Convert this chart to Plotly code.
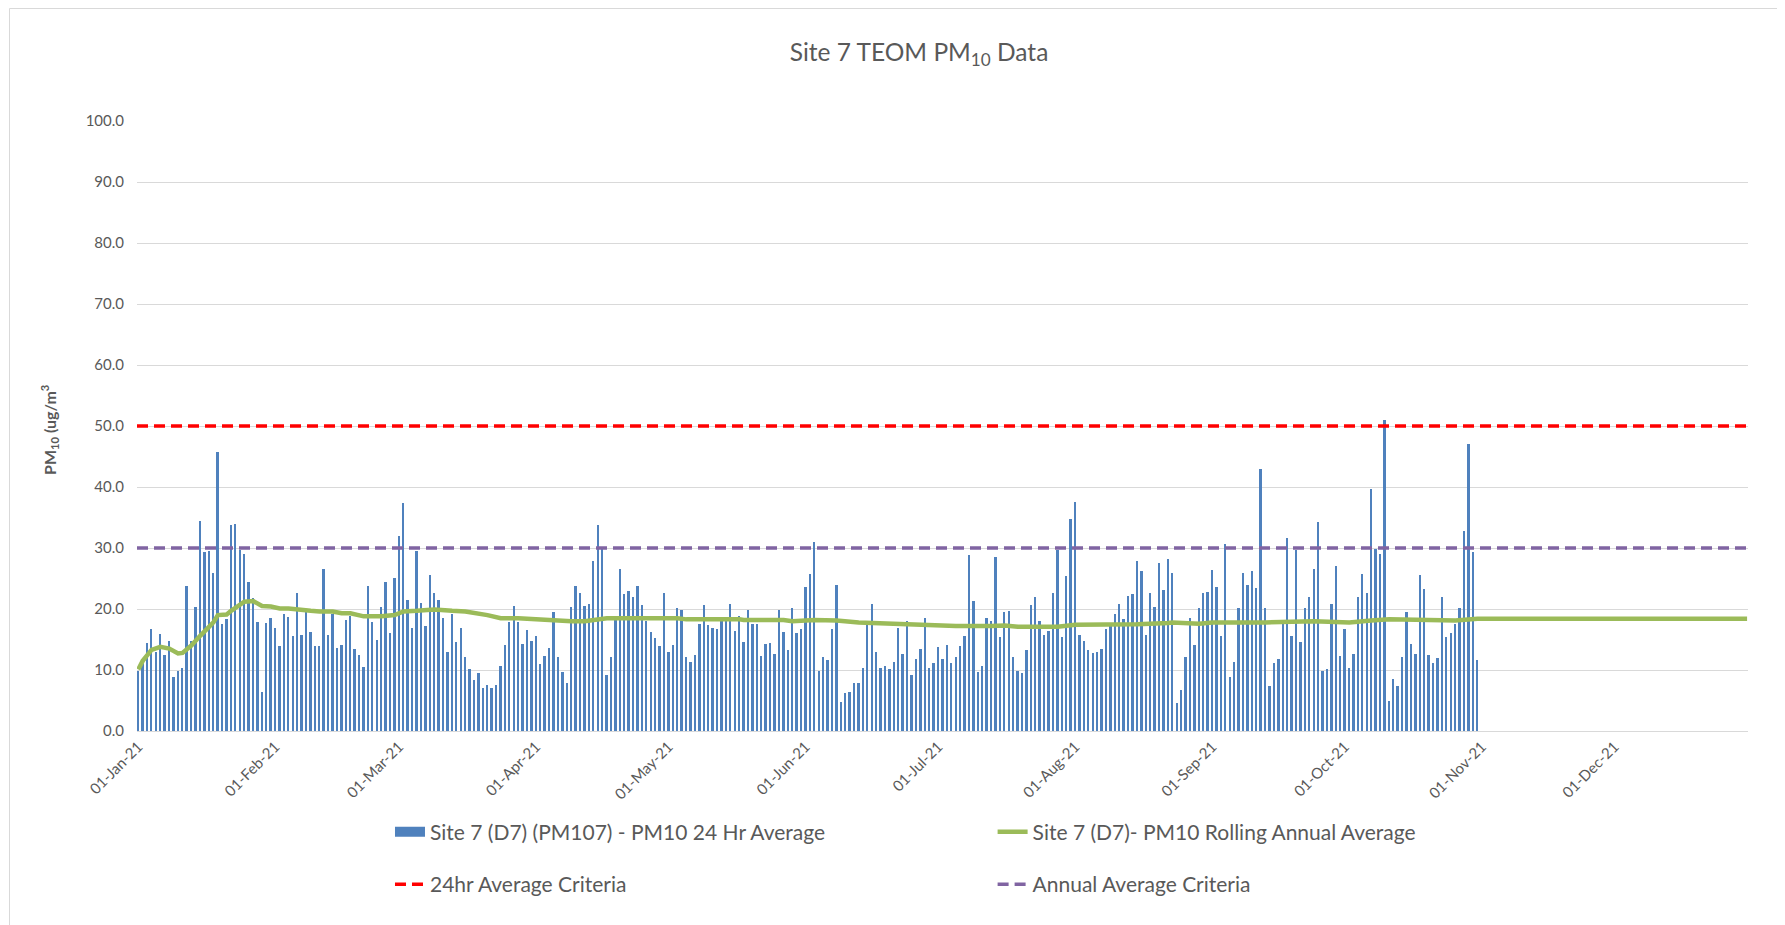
import pandas as pd
import plotly.graph_objects as go

# daily PM10 24 hr averages from 01-Jan-21 to 31-Oct-21 (ug/m3)
start_date = "2021-01-01"
pm10_24hr = [
    9.9, 11.2, 14.4, 16.7, 12.9, 15.9, 12.5, 14.8, 8.9, 9.9,
    10.4, 23.7, 14.7, 20.4, 34.5, 29.3, 29.5, 25.9, 45.8, 17.5,
    18.4, 33.8, 34.0, 29.6, 29.0, 24.4, 21.8, 17.9, 6.4, 17.7,
    18.6, 16.9, 13.9, 19.2, 18.7, 15.5, 22.7, 15.7, 19.6, 16.3,
    13.9, 14.0, 26.5, 15.7, 19.1, 13.6, 14.1, 18.2, 18.9, 13.4,
    12.5,
    10.5, 23.7, 17.8, 15.0, 20.4, 24.4, 16.1, 25.1, 31.9, 37.4,
    21.4, 16.9, 29.5, 21.0, 17.2, 25.5, 22.6, 21.4, 18.6, 12.9,
    19.1, 14.6, 16.9, 12.2, 10.2, 8.4, 9.5, 7.0, 7.6, 7.1,
    7.6, 10.6, 14.1, 17.8, 20.5, 17.8, 14.2, 16.5, 14.7, 15.6,
    11.0, 12.3, 13.6, 19.5, 12.1, 9.6, 7.8, 20.4, 23.7, 22.6,
    20.5, 20.8, 27.9, 33.8, 30.2, 9.2, 12.1, 18.2, 26.6, 22.5,
    23.0, 21.9, 23.8, 20.7, 18.0, 16.3, 15.3, 13.9, 22.6, 13.0,
    14.1, 20.2, 19.8, 12.2, 11.3, 12.4, 17.6, 20.6, 17.4, 16.9,
    16.7, 18.1, 18.1, 20.9, 16.4, 18.9, 14.6, 19.8, 17.6, 17.6,
    12.3, 14.3, 14.4, 12.6, 19.9, 16.3, 13.3, 20.2, 16.0,
    16.7, 23.6, 25.8, 31.0, 9.8, 12.2, 11.6, 16.7, 24.0, 4.8,
    6.2, 6.4, 7.9, 7.9, 10.4, 17.5, 20.9, 12.9, 10.4, 10.6,
    10.2, 11.3, 16.9, 12.6, 18.1, 9.2, 11.8, 13.4, 18.5, 10.4,
    11.1, 13.7, 11.8, 14.1, 11.1, 12.1, 13.9, 15.6, 28.9, 21.3,
    9.6, 10.6, 18.5, 18.1, 28.6, 15.4, 19.5, 19.6, 12.1, 9.9,
    9.5, 13.2, 20.6, 21.9, 18.1, 15.7, 16.4, 22.7, 29.6, 15.4,
    25.4, 34.8, 37.6, 15.8, 14.7, 13.2, 12.8, 13.0, 13.4, 16.7,
    17.2, 19.2, 20.9, 18.4, 22.1, 22.4, 27.8, 26.2, 15.7, 22.7,
    20.3, 27.5, 23.1, 28.2, 25.9, 4.6, 6.8, 12.1, 18.6, 14.1,
    20.2, 22.7, 22.8, 26.4, 23.6, 15.6, 30.7, 8.9, 11.3, 20.2,
    25.9, 24.0, 26.2, 23.4, 42.9, 20.2, 7.4, 11.2, 11.8, 17.5,
    31.6, 15.6, 29.6, 14.6, 20.2, 21.9, 26.5, 34.2, 9.9, 10.1,
    20.9, 27.1, 12.3, 16.7, 10.4, 12.6, 22.0, 25.8, 22.6, 39.7,
    29.9, 29.0, 51.0, 4.9, 8.5, 7.3, 12.1, 19.5, 14.3, 12.7,
    25.6, 23.3, 12.4, 11.2, 11.9, 22.0, 15.4, 16.0, 17.5, 20.2,
    32.8, 47.1, 29.3, 11.6,
]

# rolling annual average, read at these day offsets from 01-Jan-21
rolling_days = [
    0, 1, 3, 4, 5, 7, 9, 10, 11, 12, 14, 16, 17, 18, 20, 21, 23, 24, 26, 28,
    30, 32, 34, 36, 39, 41, 44, 46, 48, 51, 55, 58, 60, 63, 67, 71, 74, 79, 82, 86,
    90, 94, 98, 101, 104, 106, 122, 124, 136, 137, 146, 148, 153, 158, 163, 167, 172, 178, 182, 185,
    193, 196, 199, 208, 212, 220, 226, 233, 234, 240, 243, 249, 255, 266, 274, 279, 283, 292, 298, 303,
    364,
]
rolling_avg = [
    10.1, 11.5, 13.3, 13.5, 13.8, 13.5, 12.7, 12.8, 13.4, 14.0, 15.6, 17.1, 17.8, 19.0, 19.1, 19.7, 20.7, 21.2, 21.3, 20.5,
    20.4, 20.1, 20.1, 19.9, 19.7, 19.6, 19.6, 19.3, 19.3, 18.8, 18.8, 19.0, 19.6, 19.7, 19.9, 19.7, 19.6, 19.0, 18.5, 18.5,
    18.3, 18.2, 18.0, 18.0, 18.4, 18.5, 18.5, 18.3, 18.3, 18.2, 18.2, 18.0, 18.2, 18.1, 17.8, 17.7, 17.5, 17.4, 17.3, 17.2,
    17.2, 17.3, 17.1, 17.1, 17.4, 17.4, 17.5, 17.7, 17.8, 17.6, 17.8, 17.8, 17.8, 18.0, 17.8, 18.1, 18.3, 18.2, 18.1, 18.4,
    18.4,
]

criteria_24hr = 50.0
criteria_annual = 30.0

grey = "#595959"
font_family = "Lato, 'Open Sans', sans-serif"

W, H = 1785, 925
ML, MR, MT, MB = 129, 45, 113, 202

day0 = pd.Timestamp(start_date)
dates = pd.date_range(start_date, periods=len(pm10_24hr), freq="D")
rolling_dates = day0 + pd.to_timedelta(rolling_days, unit="D")
month_ticks = pd.date_range("2021-01-01", "2021-12-01", freq="MS")
x_start = day0 - pd.Timedelta(hours=7)
x_end = day0 + pd.Timedelta(days=364, hours=5)


def px_to_paper_x(px):
    return (px - ML) / (W - ML - MR)


def px_to_paper_y(py):
    return (H - MB - py) / (H - MT - MB)


fig = go.Figure()

fig.add_trace(go.Bar(
    x=dates,
    y=pm10_24hr,
    width=0.42 * 86400000,
    marker=dict(color="#4F81BD", line=dict(width=0)),
    name="Site 7 (D7) (PM107) - PM10 24 Hr Average",
    showlegend=False,
))
# legend entry drawn as a wide block, like the original
fig.add_trace(go.Scatter(
    x=[None], y=[None], mode="lines",
    line=dict(color="#4F81BD", width=11),
    name="Site 7 (D7) (PM107) - PM10 24 Hr Average",
    legend="legend",
))
fig.add_trace(go.Scatter(
    x=rolling_dates,
    y=rolling_avg,
    mode="lines",
    line=dict(color="#9BBB59", width=4.5),
    name="Site 7 (D7)- PM10 Rolling Annual Average",
    legend="legend2",
))
fig.add_trace(go.Scatter(
    x=[x_start, x_end],
    y=[criteria_24hr, criteria_24hr],
    mode="lines",
    line=dict(color="#FF0000", width=3.5, dash="11px,6px"),
    name="24hr Average Criteria",
    legend="legend3",
))
fig.add_trace(go.Scatter(
    x=[x_start, x_end],
    y=[criteria_annual, criteria_annual],
    mode="lines",
    line=dict(color="#8064A2", width=3.5, dash="11px,6px"),
    name="Annual Average Criteria",
    legend="legend4",
))

legend_style = dict(
    xref="container", yref="container", xanchor="left", yanchor="middle",
    font=dict(size=21, color=grey, family=font_family),
    bgcolor="rgba(0,0,0,0)",
)

fig.update_layout(
    width=W,
    height=H,
    margin=dict(l=ML, r=MR, t=MT, b=MB, autoexpand=False),
    paper_bgcolor="white",
    plot_bgcolor="white",
    font=dict(family=font_family, color=grey),
    title=dict(
        text="Site 7 TEOM PM<sub>10</sub> Data",
        x=0.5104, xref="container", xanchor="center",
        y=0.9524, yref="container", yanchor="middle",
        font=dict(size=24.5, color=grey, family=font_family),
    ),
    bargap=0,
    legend=dict(x=0.214, y=0.1092, **legend_style),
    legend2=dict(x=0.5516, y=0.1092, **legend_style),
    legend3=dict(x=0.214, y=0.0523, **legend_style),
    legend4=dict(x=0.5516, y=0.0523, **legend_style),
    xaxis=dict(
        type="date",
        range=[x_start, x_end],
        tickvals=month_ticks,
        tickformat="%d-%b-%y",
        tickangle=-45,
        tickfont=dict(size=15, color=grey, family=font_family),
        showgrid=False,
        showline=True,
        linecolor="#D9D9D9",
        linewidth=1,
        ticks="",
    ),
    yaxis=dict(
        range=[0, 100],
        dtick=10,
        tickformat=".1f",
        tickfont=dict(size=15, color=grey, family=font_family),
        showgrid=True,
        gridcolor="#D9D9D9",
        gridwidth=1,
        zeroline=False,
        ticklabelstandoff=12,
    ),
)

fig.add_annotation(
    text="<b>PM<sub>10</sub> (ug/m<sup>3</sup></b>",
    xref="paper", yref="paper",
    x=px_to_paper_x(42), y=px_to_paper_y(422),
    xanchor="center", yanchor="middle",
    textangle=-90, showarrow=False,
    font=dict(size=16, color=grey, family=font_family),
)

# thin chart border
fig.add_shape(
    type="rect", xref="paper", yref="paper",
    x0=px_to_paper_x(1.5), x1=px_to_paper_x(W + 20),
    y0=px_to_paper_y(H + 20), y1=px_to_paper_y(0.5),
    line=dict(color="#D9D9D9", width=1),
    fillcolor="rgba(0,0,0,0)",
    layer="below",
)

fig.write_html("out.html")
